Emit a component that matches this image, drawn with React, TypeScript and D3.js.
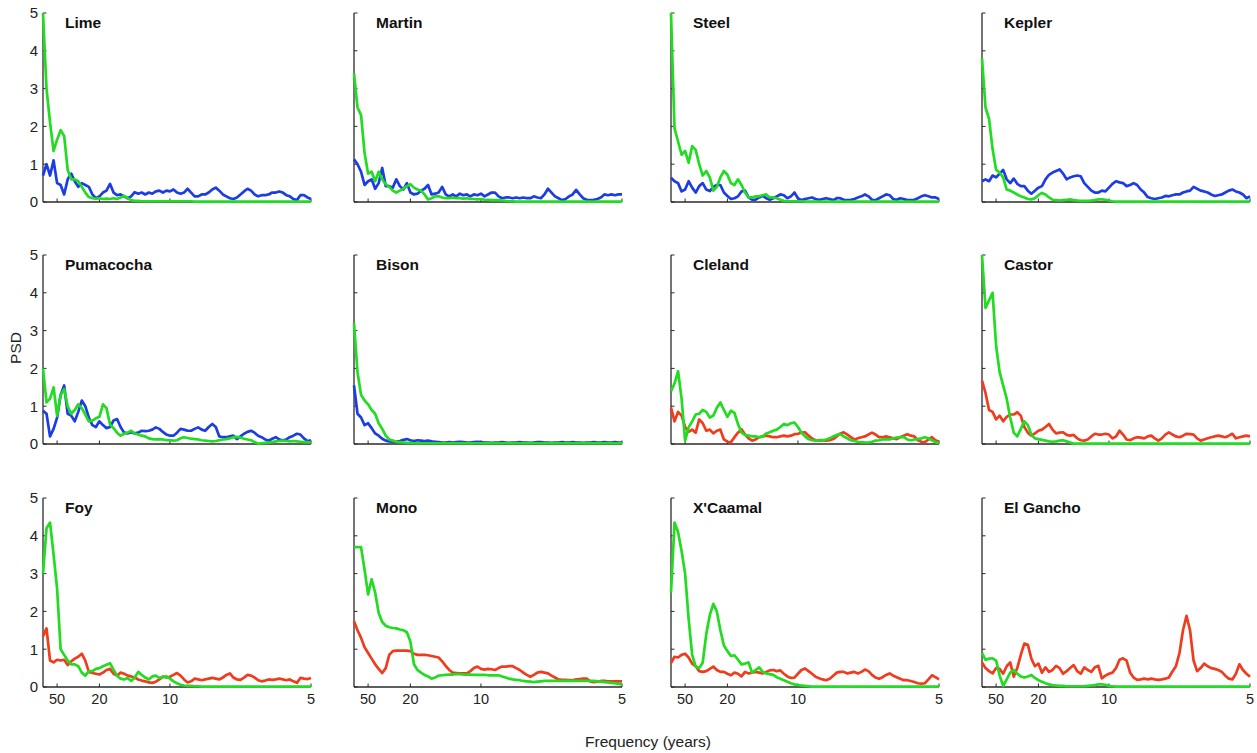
import React from 'react';
import * as d3 from 'd3';

// frequency grid (cycles / year), 0.01 .. 0.2 every 0.0025
const FREQ = d3.range(77).map(i => 0.01 + i * 0.0025);
const PERIOD_TICKS = [50, 20, 10, 5];
const PSD_TICKS = [0, 1, 2, 3, 4, 5];

const GREEN = '#22dc22';
const BLUE = '#1c3ce4';
const RED = '#f03c1e';

const LIME_BLUE = [0.7, 1.0, 0.7, 1.1, 0.5, 0.45, 0.2, 0.6, 0.75, 0.55,
  0.4, 0.5, 0.45, 0.4, 0.2, 0.1, 0.15, 0.25, 0.3, 0.48,
  0.25, 0.18, 0.2, 0.15, 0.1, 0.15, 0.26, 0.22, 0.25, 0.2,
  0.25, 0.22, 0.28, 0.3, 0.25, 0.3, 0.28, 0.33, 0.25, 0.22,
  0.25, 0.35, 0.25, 0.15, 0.15, 0.2, 0.2, 0.25, 0.33, 0.38,
  0.3, 0.2, 0.15, 0.1, 0.08, 0.12, 0.2, 0.28, 0.35, 0.3,
  0.2, 0.15, 0.18, 0.18, 0.2, 0.25, 0.25, 0.28, 0.25, 0.18,
  0.15, 0.08, 0.05, 0.18, 0.18, 0.12, 0.08];
const LIME_GREEN = [5.0, 3.0, 2.1, 1.35, 1.65, 1.9, 1.75, 0.85, 0.6, 0.6,
  0.55, 0.4, 0.25, 0.13, 0.1, 0.09, 0.1, 0.08, 0.09, 0.08,
  0.1, 0.08, 0.12, 0.16, 0.1, 0.05, 0.03, 0.03, 0.02, 0.02,
  0.02, 0.02, 0.02, 0.02, 0.02, 0.02, 0.02, 0.02, 0.02, 0.02,
  0.02, 0.02, 0.02, 0.01, 0.01, 0.01, 0.01, 0.01, 0.01, 0.01,
  0.01, 0.01, 0.01, 0.01, 0.01, 0.01, 0.01, 0.01, 0.01, 0.01,
  0.01, 0.01, 0.01, 0.01, 0.01, 0.01, 0.01, 0.01, 0.01, 0.01,
  0.01, 0.01, 0.01, 0.01, 0.01, 0.01, 0.01];

const MARTIN_BLUE = [1.13, 1.0, 0.8, 0.45, 0.55, 0.6, 0.35, 0.5, 0.9, 0.42,
  0.42, 0.38, 0.6, 0.42, 0.33, 0.5, 0.25, 0.2, 0.22, 0.3,
  0.35, 0.45, 0.2, 0.22, 0.25, 0.4, 0.2, 0.15, 0.2, 0.15,
  0.22, 0.18, 0.2, 0.15, 0.2, 0.18, 0.22, 0.15, 0.2, 0.25,
  0.25, 0.15, 0.1, 0.12, 0.12, 0.1, 0.12, 0.1, 0.12, 0.1,
  0.1, 0.15, 0.12, 0.1, 0.2, 0.35, 0.25, 0.15, 0.1, 0.05,
  0.08, 0.15, 0.2, 0.32, 0.2, 0.1, 0.06, 0.05, 0.06, 0.08,
  0.12, 0.2, 0.18, 0.2, 0.18, 0.2, 0.2];
const MARTIN_GREEN = [3.4, 2.5, 2.3, 1.3, 0.75, 0.8, 0.55, 0.8, 0.6, 0.47,
  0.4, 0.3, 0.25, 0.3, 0.35, 0.42, 0.47, 0.38, 0.33, 0.3,
  0.2, 0.07, 0.1, 0.15, 0.15, 0.12, 0.1, 0.1, 0.12, 0.1,
  0.1, 0.09, 0.1, 0.08, 0.08, 0.07, 0.08, 0.06, 0.06, 0.05,
  0.05, 0.05, 0.04, 0.03, 0.02, 0.02, 0.01, 0.01, 0.01, 0.01,
  0.01, 0.01, 0.01, 0.01, 0.01, 0.01, 0.01, 0.01, 0.01, 0.01,
  0.01, 0.01, 0.01, 0.01, 0.01, 0.01, 0.01, 0.01, 0.01, 0.01,
  0.01, 0.01, 0.01, 0.01, 0.01, 0.01, 0.01];

const STEEL_BLUE = [0.64, 0.55, 0.5, 0.28, 0.33, 0.55, 0.38, 0.25, 0.42, 0.5,
  0.33, 0.29, 0.4, 0.45, 0.45, 0.25, 0.16, 0.08, 0.1, 0.15,
  0.28, 0.3, 0.12, 0.06, 0.06, 0.12, 0.16, 0.1, 0.06, 0.1,
  0.15, 0.2, 0.18, 0.1, 0.15, 0.25, 0.1, 0.05, 0.08, 0.1,
  0.12, 0.08, 0.06, 0.08, 0.1, 0.08, 0.05, 0.1, 0.1, 0.06,
  0.05, 0.06, 0.08, 0.12, 0.15, 0.2, 0.15, 0.06, 0.05, 0.1,
  0.15, 0.2, 0.18, 0.08, 0.06, 0.1, 0.08, 0.05, 0.05, 0.06,
  0.1, 0.15, 0.18, 0.15, 0.12, 0.12, 0.08];
const STEEL_GREEN = [5.0, 1.95, 1.6, 1.25, 1.35, 1.04, 1.48, 1.38, 1.0, 0.7,
  0.82, 0.65, 0.3, 0.4, 0.65, 0.82, 0.72, 0.5, 0.45, 0.6,
  0.45, 0.25, 0.12, 0.12, 0.15, 0.15, 0.18, 0.2, 0.12, 0.12,
  0.1, 0.06, 0.03, 0.02, 0.02, 0.02, 0.02, 0.02, 0.01, 0.01,
  0.01, 0.01, 0.01, 0.01, 0.01, 0.01, 0.01, 0.01, 0.01, 0.01,
  0.01, 0.01, 0.01, 0.01, 0.01, 0.01, 0.01, 0.01, 0.01, 0.01,
  0.01, 0.01, 0.01, 0.01, 0.01, 0.01, 0.01, 0.01, 0.01, 0.01,
  0.01, 0.01, 0.01, 0.01, 0.01, 0.01, 0.01];

const KEPLER_BLUE = [0.55, 0.6, 0.55, 0.7, 0.65, 0.75, 0.85, 0.6, 0.5, 0.62,
  0.48, 0.42, 0.42, 0.3, 0.22, 0.3, 0.38, 0.42, 0.6, 0.72,
  0.78, 0.82, 0.86, 0.75, 0.6, 0.65, 0.68, 0.7, 0.68, 0.5,
  0.4, 0.3, 0.25, 0.25, 0.3, 0.28, 0.38, 0.48, 0.55, 0.52,
  0.5, 0.42, 0.45, 0.5, 0.45, 0.33, 0.25, 0.13, 0.1, 0.08,
  0.1, 0.12, 0.16, 0.15, 0.18, 0.2, 0.2, 0.25, 0.28, 0.3,
  0.4, 0.35, 0.3, 0.28, 0.25, 0.2, 0.16, 0.18, 0.2, 0.25,
  0.3, 0.33, 0.28, 0.25, 0.2, 0.1, 0.15];
const KEPLER_GREEN = [3.8, 2.5, 2.2, 1.4, 0.85, 0.78, 0.65, 0.33, 0.3, 0.25,
  0.2, 0.15, 0.12, 0.08, 0.07, 0.1, 0.18, 0.24, 0.2, 0.12,
  0.06, 0.05, 0.04, 0.05, 0.06, 0.07, 0.05, 0.04, 0.03, 0.03,
  0.03, 0.04, 0.05, 0.07, 0.07, 0.06, 0.04, 0.02, 0.01, 0.01,
  0.01, 0.01, 0.01, 0.01, 0.01, 0.01, 0.01, 0.01, 0.01, 0.01,
  0.01, 0.01, 0.01, 0.01, 0.01, 0.01, 0.01, 0.01, 0.01, 0.01,
  0.01, 0.01, 0.01, 0.01, 0.01, 0.01, 0.01, 0.01, 0.01, 0.01,
  0.01, 0.01, 0.01, 0.01, 0.01, 0.01, 0.01];

const PUMACOCHA_BLUE = [0.88, 0.8, 0.2, 0.4, 0.7, 1.3, 1.55, 0.8, 0.75, 0.6,
  0.85, 1.15, 1.0, 0.7, 0.5, 0.45, 0.6, 0.5, 0.42, 0.45,
  0.62, 0.66, 0.45, 0.3, 0.28, 0.31, 0.28, 0.3, 0.35, 0.34,
  0.35, 0.38, 0.44, 0.4, 0.32, 0.25, 0.22, 0.22, 0.3, 0.4,
  0.38, 0.35, 0.35, 0.4, 0.44, 0.38, 0.35, 0.45, 0.53, 0.45,
  0.2, 0.18, 0.18, 0.2, 0.22, 0.13, 0.2, 0.27, 0.32, 0.35,
  0.3, 0.22, 0.18, 0.12, 0.09, 0.14, 0.18, 0.12, 0.1, 0.12,
  0.18, 0.22, 0.27, 0.25, 0.15, 0.08, 0.1];
const PUMACOCHA_GREEN = [2.0, 1.1, 1.2, 1.5, 0.75, 1.3, 1.45, 1.0, 0.8, 0.9,
  1.05, 0.95, 0.78, 0.6, 0.62, 0.68, 0.72, 1.05, 0.95, 0.52,
  0.42, 0.3, 0.22, 0.27, 0.3, 0.35, 0.28, 0.25, 0.22, 0.2,
  0.15, 0.13, 0.12, 0.13, 0.12, 0.1, 0.1, 0.09, 0.1, 0.15,
  0.18, 0.16, 0.14, 0.13, 0.12, 0.1, 0.09, 0.08, 0.07, 0.08,
  0.1, 0.12, 0.13, 0.15, 0.18, 0.19, 0.17, 0.14, 0.12, 0.1,
  0.05, 0.01, 0.02, 0.03, 0.04, 0.05, 0.07, 0.08, 0.09, 0.08,
  0.07, 0.08, 0.07, 0.06, 0.05, 0.05, 0.04];

const BISON_BLUE = [1.55, 0.8, 0.7, 0.5, 0.55, 0.42, 0.28, 0.22, 0.14, 0.09,
  0.07, 0.06, 0.06, 0.08, 0.11, 0.13, 0.1, 0.08, 0.1, 0.09,
  0.08, 0.09, 0.07, 0.06, 0.05, 0.04, 0.04, 0.05, 0.04, 0.05,
  0.06, 0.05, 0.04, 0.04, 0.05, 0.06, 0.05, 0.04, 0.04, 0.03,
  0.04, 0.04, 0.05, 0.04, 0.03, 0.04, 0.04, 0.05, 0.04, 0.04,
  0.03, 0.04, 0.05, 0.05, 0.04, 0.04, 0.03, 0.04, 0.04, 0.05,
  0.04, 0.04, 0.05, 0.04, 0.04, 0.03, 0.04, 0.04, 0.05, 0.04,
  0.04, 0.05, 0.04, 0.04, 0.05, 0.04, 0.04];
const BISON_GREEN = [3.2, 1.9, 1.3, 1.15, 1.05, 0.9, 0.8, 0.55, 0.4, 0.22,
  0.12, 0.09, 0.06, 0.05, 0.04, 0.03, 0.03, 0.02, 0.02, 0.02,
  0.02, 0.02, 0.02, 0.02, 0.02, 0.02, 0.02, 0.02, 0.02, 0.02,
  0.02, 0.02, 0.02, 0.02, 0.02, 0.02, 0.02, 0.02, 0.02, 0.02,
  0.02, 0.02, 0.02, 0.02, 0.02, 0.02, 0.02, 0.02, 0.02, 0.02,
  0.02, 0.02, 0.02, 0.02, 0.02, 0.02, 0.02, 0.02, 0.02, 0.02,
  0.02, 0.02, 0.02, 0.02, 0.02, 0.02, 0.02, 0.02, 0.02, 0.02,
  0.02, 0.02, 0.02, 0.02, 0.02, 0.02, 0.02];

const CLELAND_RED = [0.96, 0.6, 0.85, 0.75, 0.45, 0.32, 0.38, 0.3, 0.65, 0.55,
  0.35, 0.38, 0.28, 0.35, 0.38, 0.12, 0.06, 0.05, 0.18, 0.3,
  0.39, 0.25, 0.15, 0.09, 0.12, 0.18, 0.2, 0.22, 0.2, 0.18,
  0.18, 0.2, 0.22, 0.2, 0.22, 0.26, 0.27, 0.3, 0.31, 0.22,
  0.15, 0.1, 0.09, 0.1, 0.09, 0.1, 0.13, 0.2, 0.28, 0.31,
  0.25, 0.18, 0.12, 0.15, 0.18, 0.2, 0.25, 0.3, 0.25, 0.18,
  0.18, 0.2, 0.18, 0.15, 0.13, 0.18, 0.22, 0.26, 0.22, 0.2,
  0.1, 0.06, 0.05, 0.12, 0.18, 0.1, 0.06];
const CLELAND_GREEN = [1.4, 1.6, 1.93, 1.2, 0.09, 0.44, 0.6, 0.78, 0.8, 0.9,
  0.85, 0.7, 0.75, 0.96, 1.1, 0.9, 0.72, 0.88, 0.82, 0.53,
  0.3, 0.24, 0.22, 0.2, 0.2, 0.18, 0.2, 0.28, 0.31, 0.35,
  0.38, 0.45, 0.53, 0.5, 0.55, 0.57, 0.45, 0.3, 0.2, 0.13,
  0.1, 0.09, 0.1, 0.1, 0.12, 0.15, 0.2, 0.24, 0.26, 0.2,
  0.15, 0.1, 0.08, 0.06, 0.05, 0.04, 0.04, 0.06, 0.09, 0.1,
  0.12, 0.13, 0.12, 0.15, 0.17, 0.18, 0.18, 0.12, 0.1, 0.12,
  0.13, 0.15, 0.18, 0.15, 0.1, 0.05, 0.02];

const CASTOR_RED = [1.68, 1.35, 0.9, 0.85, 0.65, 0.75, 0.6, 0.72, 0.78, 0.78,
  0.84, 0.75, 0.45, 0.3, 0.22, 0.28, 0.35, 0.38, 0.45, 0.53,
  0.38, 0.28, 0.3, 0.31, 0.24, 0.22, 0.24, 0.15, 0.1, 0.09,
  0.12, 0.2, 0.27, 0.25, 0.25, 0.27, 0.25, 0.15, 0.2, 0.35,
  0.25, 0.12, 0.1, 0.15, 0.18, 0.17, 0.15, 0.2, 0.22, 0.15,
  0.09, 0.15, 0.25, 0.31, 0.25, 0.2, 0.18, 0.22, 0.27, 0.26,
  0.25, 0.15, 0.09, 0.12, 0.15, 0.18, 0.2, 0.22, 0.2, 0.18,
  0.22, 0.27, 0.15, 0.18, 0.2, 0.22, 0.2];
const CASTOR_GREEN = [5.0, 3.6, 3.8, 4.0, 2.6, 1.9, 1.55, 1.2, 0.7, 0.3,
  0.2, 0.4, 0.6, 0.5, 0.25, 0.15, 0.13, 0.11, 0.09, 0.07,
  0.06, 0.07, 0.09, 0.1, 0.07, 0.04, 0.01, 0.01, 0.01, 0.01,
  0.01, 0.01, 0.01, 0.01, 0.01, 0.01, 0.01, 0.01, 0.01, 0.01,
  0.01, 0.01, 0.01, 0.01, 0.01, 0.01, 0.01, 0.01, 0.01, 0.01,
  0.01, 0.01, 0.01, 0.01, 0.01, 0.01, 0.01, 0.01, 0.01, 0.01,
  0.01, 0.01, 0.01, 0.01, 0.01, 0.01, 0.01, 0.01, 0.01, 0.01,
  0.01, 0.01, 0.01, 0.01, 0.01, 0.01, 0.01];

const FOY_RED = [1.34, 1.55, 0.7, 0.65, 0.72, 0.7, 0.72, 0.58, 0.68, 0.75,
  0.8, 0.88, 0.7, 0.4, 0.37, 0.35, 0.33, 0.38, 0.45, 0.48,
  0.35, 0.3, 0.38, 0.35, 0.3, 0.28, 0.25, 0.2, 0.17, 0.15,
  0.12, 0.11, 0.14, 0.2, 0.28, 0.25, 0.27, 0.32, 0.37, 0.3,
  0.2, 0.12, 0.15, 0.22, 0.2, 0.18, 0.2, 0.22, 0.24, 0.22,
  0.2, 0.25, 0.32, 0.36, 0.25, 0.2, 0.19, 0.25, 0.32, 0.3,
  0.25, 0.18, 0.15, 0.17, 0.2, 0.19, 0.2, 0.22, 0.2, 0.18,
  0.2, 0.15, 0.11, 0.24, 0.22, 0.21, 0.24];
const FOY_GREEN = [3.0, 4.2, 4.35, 3.5, 2.6, 1.0, 0.85, 0.7, 0.6, 0.6,
  0.55, 0.38, 0.3, 0.42, 0.42, 0.48, 0.5, 0.55, 0.59, 0.63,
  0.46, 0.3, 0.22, 0.2, 0.24, 0.16, 0.25, 0.4, 0.32, 0.25,
  0.2, 0.28, 0.3, 0.24, 0.26, 0.28, 0.22, 0.15, 0.1, 0.06,
  0.04, 0.03, 0.03, 0.02, 0.02, 0.01, 0.01, 0.01, 0.01, 0.01,
  0.01, 0.01, 0.01, 0.01, 0.01, 0.01, 0.01, 0.01, 0.01, 0.01,
  0.01, 0.01, 0.01, 0.01, 0.01, 0.01, 0.01, 0.01, 0.01, 0.01,
  0.01, 0.01, 0.01, 0.01, 0.01, 0.01, 0.01];

const MONO_RED = [1.74, 1.5, 1.3, 1.05, 0.9, 0.75, 0.6, 0.48, 0.37, 0.5,
  0.85, 0.95, 0.96, 0.96, 0.96, 0.96, 0.95, 0.88, 0.85, 0.85,
  0.85, 0.84, 0.82, 0.8, 0.78, 0.68, 0.56, 0.45, 0.38, 0.37,
  0.36, 0.36, 0.36, 0.42, 0.5, 0.54, 0.48, 0.46, 0.48, 0.47,
  0.45, 0.5, 0.54, 0.54, 0.55, 0.55, 0.5, 0.45, 0.38, 0.32,
  0.27, 0.32, 0.38, 0.4, 0.38, 0.36, 0.3, 0.25, 0.2, 0.19,
  0.19, 0.18, 0.18, 0.2, 0.21, 0.22, 0.22, 0.15, 0.13, 0.14,
  0.16, 0.16, 0.15, 0.15, 0.15, 0.15, 0.15];
const MONO_GREEN = [3.7, 3.7, 3.7, 3.1, 2.45, 2.85, 2.5, 1.96, 1.72, 1.62,
  1.58, 1.56, 1.55, 1.52, 1.5, 1.45, 1.2, 0.6, 0.45, 0.38,
  0.32, 0.28, 0.22, 0.25, 0.3, 0.31, 0.32, 0.33, 0.33, 0.34,
  0.34, 0.33, 0.33, 0.33, 0.32, 0.32, 0.32, 0.32, 0.31, 0.31,
  0.31, 0.31, 0.28, 0.25, 0.22, 0.2, 0.19, 0.18, 0.16, 0.15,
  0.14, 0.13, 0.14, 0.15, 0.16, 0.16, 0.16, 0.16, 0.16, 0.16,
  0.16, 0.16, 0.16, 0.16, 0.16, 0.16, 0.16, 0.16, 0.16, 0.15,
  0.14, 0.13, 0.12, 0.11, 0.1, 0.08, 0.07];

const XCAAMAL_RED = [0.63, 0.8, 0.78, 0.85, 0.88, 0.78, 0.62, 0.55, 0.42, 0.4,
  0.42, 0.48, 0.54, 0.45, 0.4, 0.4, 0.35, 0.31, 0.38, 0.35,
  0.28, 0.4, 0.36, 0.38, 0.4, 0.38, 0.36, 0.4, 0.44, 0.45,
  0.42, 0.44, 0.35, 0.28, 0.24, 0.25, 0.35, 0.45, 0.49, 0.42,
  0.35, 0.27, 0.23, 0.2, 0.18, 0.22, 0.3, 0.38, 0.4, 0.4,
  0.36, 0.38, 0.4, 0.36, 0.4, 0.46, 0.42, 0.32, 0.25, 0.22,
  0.26, 0.32, 0.36, 0.3, 0.26, 0.22, 0.18, 0.18, 0.16, 0.13,
  0.1, 0.09, 0.1, 0.2, 0.31, 0.26, 0.2];
const XCAAMAL_GREEN = [2.5, 4.35, 4.1, 3.6, 3.0, 1.8, 0.85, 0.54, 0.5, 0.65,
  1.4, 1.9, 2.2, 2.0, 1.5, 1.1, 0.95, 0.82, 0.84, 0.72,
  0.6, 0.62, 0.65, 0.38, 0.45, 0.52, 0.4, 0.36, 0.34, 0.32,
  0.26, 0.22, 0.18, 0.14, 0.1, 0.07, 0.05, 0.04, 0.03, 0.02,
  0.01, 0.01, 0.01, 0.01, 0.01, 0.01, 0.01, 0.01, 0.01, 0.01,
  0.01, 0.01, 0.01, 0.01, 0.01, 0.01, 0.01, 0.01, 0.01, 0.01,
  0.01, 0.01, 0.01, 0.01, 0.01, 0.01, 0.01, 0.01, 0.01, 0.01,
  0.01, 0.01, 0.01, 0.01, 0.01, 0.01, 0.01];

const ELGANCHO_RED = [0.65, 0.5, 0.42, 0.36, 0.5, 0.48, 0.35, 0.55, 0.65, 0.27,
  0.5, 0.85, 1.15, 1.12, 0.75, 0.55, 0.62, 0.38, 0.52, 0.4,
  0.45, 0.56, 0.5, 0.35, 0.42, 0.5, 0.58, 0.42, 0.35, 0.52,
  0.45, 0.4, 0.52, 0.56, 0.23, 0.3, 0.35, 0.38, 0.5, 0.72,
  0.76, 0.7, 0.38, 0.25, 0.19, 0.2, 0.22, 0.2, 0.22, 0.2,
  0.19, 0.2, 0.22, 0.25, 0.41, 0.55, 0.9, 1.5, 1.88, 1.5,
  0.7, 0.42, 0.5, 0.62, 0.55, 0.5, 0.48, 0.45, 0.4, 0.3,
  0.22, 0.2, 0.35, 0.6, 0.45, 0.35, 0.27];
const ELGANCHO_GREEN = [0.9, 0.72, 0.75, 0.76, 0.7, 0.3, 0.03, 0.2, 0.38, 0.45,
  0.35, 0.28, 0.25, 0.28, 0.32, 0.24, 0.18, 0.14, 0.1, 0.07,
  0.05, 0.04, 0.03, 0.03, 0.02, 0.02, 0.02, 0.02, 0.02, 0.02,
  0.03, 0.04, 0.05, 0.07, 0.07, 0.06, 0.03, 0.02, 0.01, 0.01,
  0.01, 0.01, 0.01, 0.01, 0.01, 0.01, 0.01, 0.01, 0.01, 0.01,
  0.01, 0.01, 0.01, 0.01, 0.01, 0.01, 0.01, 0.01, 0.01, 0.01,
  0.01, 0.01, 0.01, 0.01, 0.01, 0.01, 0.01, 0.01, 0.01, 0.01,
  0.01, 0.01, 0.01, 0.01, 0.01, 0.01, 0.01];

const SITES = [
  { name: 'Lime', other: LIME_BLUE, otherColor: BLUE, green: LIME_GREEN },
  { name: 'Martin', other: MARTIN_BLUE, otherColor: BLUE, green: MARTIN_GREEN },
  { name: 'Steel', other: STEEL_BLUE, otherColor: BLUE, green: STEEL_GREEN },
  { name: 'Kepler', other: KEPLER_BLUE, otherColor: BLUE, green: KEPLER_GREEN },
  { name: 'Pumacocha', other: PUMACOCHA_BLUE, otherColor: BLUE, green: PUMACOCHA_GREEN },
  { name: 'Bison', other: BISON_BLUE, otherColor: BLUE, green: BISON_GREEN },
  { name: 'Cleland', other: CLELAND_RED, otherColor: RED, green: CLELAND_GREEN },
  { name: 'Castor', other: CASTOR_RED, otherColor: RED, green: CASTOR_GREEN },
  { name: 'Foy', other: FOY_RED, otherColor: RED, green: FOY_GREEN },
  { name: 'Mono', other: MONO_RED, otherColor: RED, green: MONO_GREEN },
  { name: "X'Caamal", other: XCAAMAL_RED, otherColor: RED, green: XCAAMAL_GREEN },
  { name: 'El Gancho', other: ELGANCHO_RED, otherColor: RED, green: ELGANCHO_GREEN },
];

// layout
const COL_X = [43, 354, 671, 982];
const ROW_Y = [13, 255, 498];
const PW = 268;
const PH = 189;
const FONT = '"Liberation Sans", Arial, Helvetica, sans-serif';
const AXIS = '#2a2a2a';

const x = d3.scaleLinear().domain([0.01, 0.2]).range([0, PW]);
const y = d3.scaleLinear().domain([0, 5]).range([PH, 0]);
const line = d3.line<number>()
  .x((_, i) => x(FREQ[i]))
  .y(d => y(d));

const Panel = ({ site, row, col }) => (
  <g transform={`translate(${COL_X[col]},${ROW_Y[row]})`}>
    {/* axes first so the traces sit on top */}
    <line x1={0} x2={0} y1={0} y2={PH} stroke={AXIS} strokeWidth={1.3} />
    <line x1={0} x2={PW} y1={PH} y2={PH} stroke={AXIS} strokeWidth={1.3} />
    {PSD_TICKS.map(v => (
      <g key={'y' + v}>
        <line x1={0} x2={3.5} y1={y(v)} y2={y(v)} stroke={AXIS} strokeWidth={1} />
        {col === 0 && (
          <text x={-5} y={y(v)} dy="0.36em" textAnchor="end" fontSize={15} fill="#222">{v}</text>
        )}
      </g>
    ))}
    {PERIOD_TICKS.map(p => (
      <g key={'x' + p}>
        <line x1={x(1 / p)} x2={x(1 / p)} y1={PH} y2={PH - 3.5} stroke={AXIS} strokeWidth={1} />
        {row === 2 && (
          <text x={x(1 / p)} y={PH + 17} textAnchor="middle" fontSize={14.5} fill="#222">{p}</text>
        )}
      </g>
    ))}
    <path d={line(site.other)} fill="none" stroke={site.otherColor} strokeWidth={2.7} strokeLinejoin="round" />
    <path d={line(site.green)} fill="none" stroke={GREEN} strokeWidth={2.7} strokeLinejoin="round" />
    <text x={22} y={15} fontSize={15.5} fontWeight="bold" fill="#111">{site.name}</text>
  </g>
);

export default function App() {
  return (
    <svg width={1257} height={753} style={{ position: 'absolute', left: 0, top: 0, background: '#fff' }}
      fontFamily={FONT}>
      <rect width={1257} height={753} fill="#fff" />
      {SITES.map((s, i) => (
        <Panel key={s.name} site={s} row={Math.floor(i / 4)} col={i % 4} />
      ))}
      <text transform="translate(21,348) rotate(-90)" textAnchor="middle" fontSize={15.5} fill="#222">PSD</text>
      <text x={648} y={747} textAnchor="middle" fontSize={15.5} fill="#222">Frequency (years)</text>
    </svg>
  );
}
